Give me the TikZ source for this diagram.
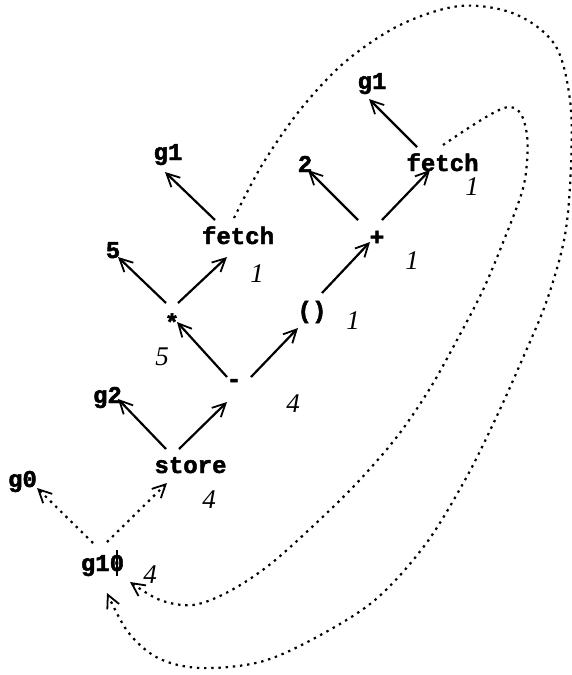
\documentclass[tikz,border=0pt]{standalone}
\usepackage{fontspec}
\setmonofont{Liberation Mono}[BoldFeatures={FakeBold=2}]
\newfontfamily\weightfont{Liberation Serif}
\usetikzlibrary{arrows.meta,calc}

\tikzset{
  term/.style={inner sep=0pt, anchor=base,
    font=\ttfamily\bfseries\fontsize{24}{24}\selectfont},
  sym/.style={inner sep=0pt, anchor=center,
    font=\ttfamily\bfseries\fontsize{24}{24}\selectfont},
  weight/.style={inner sep=0pt, anchor=base,
    font=\weightfont\itshape\fontsize{27}{27}\selectfont},
  barb/.tip={Straight Barb[length=13pt,width=13pt,line width=1.8pt]},
  edge/.style={line width=2.2pt, -barb},
  link/.style={line width=2.2pt, dash pattern=on 2.4pt off 4.8pt, -barb},
}

\begin{document}
\begin{tikzpicture}[x=1pt,y=-1pt]
\useasboundingbox (0,0) rectangle (572,675);

% operator tree
\node[term] (g1R)    at (372,89)    {g1};
\node[term] (fetchR) at (442.5,171) {fetch};
\node[term] (two)    at (305,172)   {2};
\node[sym]  (plus)   at (377,238)   {+};
\node[sym]  (paren)  at (312,312)   {()};
\node[term] (g1L)    at (168,160)   {g1};
\node[term] (fetchL) at (238,244)   {fetch};
\node[term] (five)   at (113,258)   {5};
\node[sym]  (star)   at (172,322)   {*};
\node[sym]  (minus)  at (234,383)   {-};
\node[term] (g2)     at (107.5,403) {g2};
\node[term] (store)  at (190.5,473) {store};
\node[term] (g0)     at (22.5,487)  {g0};
\node[term] (g10)    at (102.5,571)
  {g1\rlap{0}\makebox[0.6em][c]{\rule[-5pt]{1.3pt}{26pt}}};

% weights
\node[weight] (wFetchR) at (472,195) {1};
\node[weight] (wPlus)   at (412,269) {1};
\node[weight] (wParen)  at (353,329) {1};
\node[weight] (wFetchL) at (257,282) {1};
\node[weight] (wStar)   at (162,365) {5};
\node[weight] (wMinus)  at (293,412) {4};
\node[weight] (wStore)  at (209,508) {4};
\node[weight] (wG10)    at (150,583) {4};

% tree edges
\draw[edge] ($(fetchR.base)+(-25.5,-24)$) -- ($(g1R.base)+(-3,10)$);
\draw[edge] ($(plus)+(-19,-18)$)          -- ($(two.base)+(3,-2)$);
\draw[edge] ($(plus)+(5,-18)$)            -- ($(fetchR.base)+(-12.5,-1)$);
\draw[edge] ($(paren)+(10,-19)$)          -- ($(plus)+(-7,4)$);
\draw[edge] ($(fetchL.base)+(-23,-24)$)   -- ($(g1L.base)+(-3,12)$);
\draw[edge] ($(star)+(-6,-19)$)           -- ($(five.base)+(5,-1)$);
\draw[edge] ($(star)+(6,-19)$)            -- ($(fetchL.base)+(-11,13)$);
\draw[edge] ($(minus)+(-7,-6)$)           -- ($(star)+(5,0)$);
\draw[edge] ($(minus)+(17,-6)$)           -- ($(paren)+(-14,16)$);
\draw[edge] ($(store.base)+(-24.5,-24)$)  -- ($(g2.base)+(10.5,-4)$);
\draw[edge] ($(store.base)+(-11.5,-24)$)  -- ($(minus)+(-7,19)$);

% links of g10
\draw[link] ($(g10.base)+(-9.5,-28)$) -- ($(g0.base)+(14.5,1)$);
\draw[link] ($(g10.base)+(4.5,-29)$)  -- ($(store.base)+(-23.5,10)$);

% back links from the two fetches
\draw[link] plot[smooth, tension=0.55] coordinates {
  ($(fetchR.base)+(0.5,-26)$) (470,127) (495,112) (510,107) (521,114)
  (527,135) (527,162) (522,192) (504,240) (483,290) (457,340) (429,390)
  (396,438) (355,485) (312,527) (268,566) (228,592) (193,605) (160,600)
  ($(g10.base)+(27.5,11)$)};
\draw[link] plot[smooth, tension=0.55] coordinates {
  ($(fetchL.base)+(-4,-26)$) (262,165) (300,110) (345,62) (400,25)
  (460,6) (515,14) (555,45) (570,100) (571,165) (565,235) (547,300)
  (522,360) (495,420) (465,480) (425,545) (375,600) (315,638) (260,662)
  (200,668) (158,658) (128,632) ($(g10.base)+(4.5,22)$)};
\end{tikzpicture}
\end{document}
